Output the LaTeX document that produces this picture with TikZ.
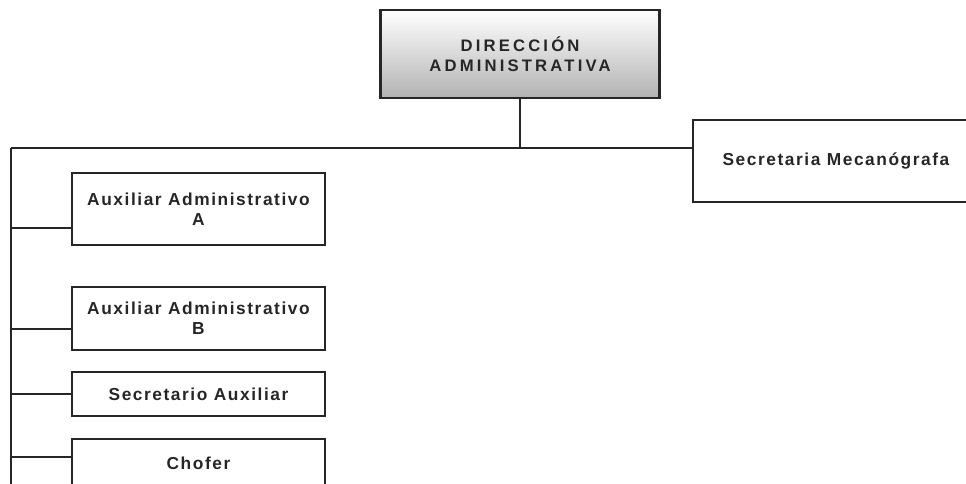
\documentclass[tikz,border=0pt]{standalone}
\usepackage{fontspec}
\setmainfont{Liberation Sans}
\newfontfamily\cargofont[LetterSpace=9]{Liberation Sans}
\newfontfamily\jefefont[LetterSpace=19]{Liberation Sans}
\usepackage{tikz}
\usetikzlibrary{positioning}
\definecolor{tinta}{HTML}{262626}
\definecolor{borde}{HTML}{262626}

\begin{document}
\begin{tikzpicture}[x=0.75pt, y=-0.75pt,
	cargo/.style={draw=borde, line width=1.9pt, rectangle, align=center, text=tinta,
		font=\cargofont\bfseries\fontsize{13pt}{15pt}\selectfont, minimum width=189.75pt, inner sep=0pt},
	jefe/.style={cargo, font=\jefefont\bfseries\fontsize{12.5pt}{15pt}\selectfont,
		path picture={\shade[top color=white, middle color=gray!12, bottom color=gray!60]
			(path picture bounding box.north west) rectangle (path picture bounding box.south east);}},
	linea/.style={draw=borde, line width=1.4pt}]
				% Boxes:
				\useasboundingbox (0,0) rectangle (966,483);
				\node[jefe, minimum width=209.25pt, minimum height=66pt](DIR) at (520, 54){DIRECCIÓN\\ADMINISTRATIVA};
				\node[cargo, minimum width=214.5pt, minimum height=61.5pt](SEC) at (836, 161){Secretaria Mecanógrafa};
				\node[cargo, minimum height=54pt](AUXA) at (198.5, 209){Auxiliar Administrativo\\A};
				\node[cargo, minimum height=47.25pt](AUXB) at (198.5, 318.5){Auxiliar Administrativo\\B};
				\node[cargo, minimum height=33pt](SAUX) at (198.5, 394){Secretario Auxiliar};
				\node[cargo, minimum height=36pt](CHOF) at (198.5, 463){Chofer};
				% Wires:
				\coordinate (T0) at (11, 148);
				\coordinate (T1) at (11, 490);
				\coordinate (JA) at (11, 228);
				\coordinate (JB) at (11, 329);
				\coordinate (JS) at (11, 394);
				\coordinate (JC) at (11, 457);
				\draw[linea] (DIR.south) -- (DIR.south |- T0);
				\draw[linea] (T0) -- (T0 -| SEC.west);
				\draw[linea] (T0) -- (T1);
				\draw[linea] (JA) -- (JA -| AUXA.west);
				\draw[linea] (JB) -- (JB -| AUXB.west);
				\draw[linea] (JS) -- (JS -| SAUX.west);
				\draw[linea] (JC) -- (JC -| CHOF.west);
			\end{tikzpicture}
\end{document}
